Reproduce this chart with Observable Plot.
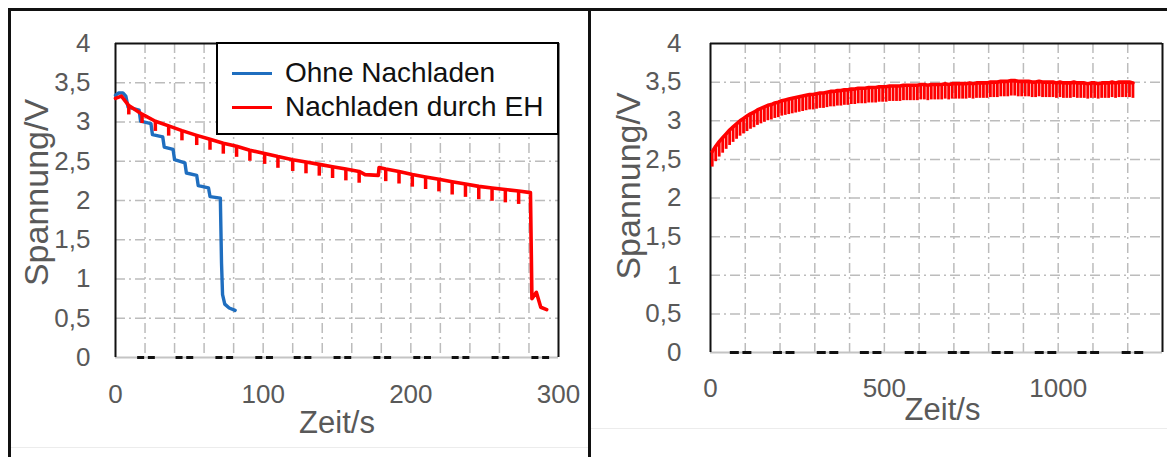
<!DOCTYPE html>
<html><head><meta charset="utf-8">
<script src="https://cdn.jsdelivr.net/npm/d3@7"></script>
<script src="https://cdn.jsdelivr.net/npm/@observablehq/plot@0.6"></script>
<style>
html,body{margin:0;padding:0;background:#fff;}
#root{position:relative;width:1167px;height:457px;overflow:hidden;font-family:"Liberation Sans",Arial,sans-serif;background:#fff;}
.ln{position:absolute;background:#111;}
.fl{position:absolute;background:#ececec;}
#left,#right{position:absolute;top:10px;}
#left{left:10px;} #right{left:592px;}
#legend{position:absolute;left:216px;top:42px;width:343px;height:93px;border:2px solid #000;background:#fff;box-sizing:border-box;}
.sw{position:absolute;left:14px;width:40px;height:3px;}
.lt{position:absolute;left:67px;font-size:28px;line-height:28px;color:#111;white-space:nowrap;}
</style></head>
<body><div id="root">
<div id="left"></div><div id="right"></div>
<div class="ln" style="left:8px;top:8px;width:1159px;height:3px;"></div>
<div class="ln" style="left:8px;top:8px;width:3px;height:449px;"></div>
<div class="ln" style="left:588px;top:8px;width:3px;height:449px;"></div>
<div class="fl" style="left:11px;top:447px;width:577px;height:1px;"></div>
<div class="fl" style="left:591px;top:428px;width:576px;height:1px;"></div>
<div id="legend">
  <div class="sw" style="top:27.5px;background:#1f6ebf;"></div>
  <div class="lt" style="top:15px;">Ohne Nachladen</div>
  <div class="sw" style="top:61.5px;background:#ff0000;"></div>
  <div class="lt" style="top:49px;">Nachladen durch EH</div>
</div>
</div>
<script>
// ---------- data ----------
const voltTicks = [0, 0.5, 1, 1.5, 2, 2.5, 3, 3.5, 4];
const gridY = [0.5, 1, 1.5, 2, 2.5, 3, 3.5];
const leftTicksX = [0, 100, 200, 300];
const rightTicksX = [0, 500, 1000];
const leftGridX = [20, 40, 60, 80, 100, 120, 140, 160, 180, 200, 220, 240, 260, 280];
const rightGridX = [100, 200, 300, 400, 500, 600, 700, 800, 900, 1000, 1100, 1200];

// Left: "Ohne Nachladen" (blue)
const blueT = [0, 2, 5, 7, 8.5, 16, 17, 24, 25, 32, 33, 39, 40, 47, 48, 55, 56, 63, 64, 71, 71.8, 72.5, 74, 77, 81];
const blueV = [3.34, 3.37, 3.37, 3.33, 3.19, 3.15, 3.01, 2.98, 2.84, 2.81, 2.68, 2.65, 2.52, 2.48, 2.35, 2.32, 2.19, 2.16, 2.05, 2.03, 1.2, 0.8, 0.68, 0.63, 0.60];

// Left: "Nachladen durch EH" (red) – plateau
const redT = [0, 4, 9, 18, 27, 36, 45, 55, 64, 73, 82, 91, 101, 110, 120, 129, 138, 147, 156, 165, 169, 178, 178.5, 183, 192, 201, 210, 219, 228, 237, 246, 255, 264, 273, 281, 282, 285, 288, 292];
const redV = [3.30, 3.33, 3.21, 3.10, 3.01, 2.95, 2.89, 2.83, 2.78, 2.73, 2.69, 2.64, 2.60, 2.56, 2.52, 2.49, 2.46, 2.43, 2.40, 2.37, 2.33, 2.32, 2.42, 2.40, 2.37, 2.33, 2.30, 2.27, 2.24, 2.21, 2.18, 2.16, 2.14, 2.12, 2.10, 0.75, 0.83, 0.64, 0.61];
// Left red dips (teeth)
const redToothT = [9, 18, 27, 36, 45, 55, 64, 73, 82, 91, 101, 110, 120, 129, 138, 147, 156, 165, 183, 192, 201, 210, 219, 228, 237, 246, 255, 264, 273];
const redToothDip = [0.12, 0.12, 0.13, 0.13, 0.13, 0.13, 0.14, 0.14, 0.14, 0.14, 0.14, 0.15, 0.15, 0.15, 0.15, 0.15, 0.15, 0.15, 0.16, 0.16, 0.16, 0.16, 0.16, 0.17, 0.17, 0.17, 0.17, 0.17, 0.17];
// EH pulses marked at 0 V
const leftPulseStart = [15, 41, 68, 95, 121, 148, 175, 202, 228, 255, 282];
const leftPulseLen = [12];

// Right: long-term recharge (red)
const rightToothT = [5, 15, 25, 35, 45, 55, 65, 75, 85, 95,
  105, 115, 125, 135, 145, 155, 165, 175, 185, 195,
  205, 215, 225, 235, 245, 255, 265, 275, 285, 295,
  305, 315, 325, 335, 345, 355, 365, 375, 385, 395,
  405, 415, 425, 435, 445, 455, 465, 475, 485, 495,
  505, 515, 525, 535, 545, 555, 565, 575, 585, 595,
  605, 615, 625, 635, 645, 655, 665, 675, 685, 695,
  705, 715, 725, 735, 745, 755, 765, 775, 785, 795,
  805, 815, 825, 835, 845, 855, 865, 875, 885, 895,
  905, 915, 925, 935, 945, 955, 965, 975, 985, 995,
  1005, 1015, 1025, 1035, 1045, 1055, 1065, 1075, 1085, 1095,
  1105, 1115, 1125, 1135, 1145, 1155, 1165, 1175, 1185, 1195,
  1205, 1215];
const rightToothV = [2.60, 2.67, 2.73, 2.78, 2.83, 2.88, 2.92, 2.96, 3.00, 3.03,
  3.06, 3.09, 3.11, 3.14, 3.16, 3.18, 3.20, 3.21, 3.23, 3.24,
  3.26, 3.27, 3.28, 3.29, 3.30, 3.31, 3.32, 3.33, 3.34, 3.34,
  3.35, 3.36, 3.36, 3.37, 3.38, 3.38, 3.39, 3.39, 3.40, 3.40,
  3.41, 3.41, 3.42, 3.42, 3.42, 3.43, 3.43, 3.43, 3.44, 3.44,
  3.44, 3.45, 3.45, 3.45, 3.45, 3.46, 3.46, 3.46, 3.46, 3.46,
  3.47, 3.47, 3.46, 3.47, 3.47, 3.47, 3.47, 3.48, 3.47, 3.48,
  3.48, 3.48, 3.48, 3.48, 3.49, 3.48, 3.49, 3.49, 3.49, 3.49,
  3.50, 3.50, 3.50, 3.51, 3.51, 3.51, 3.52, 3.52, 3.51, 3.51,
  3.51, 3.51, 3.50, 3.50, 3.51, 3.50, 3.50, 3.50, 3.50, 3.49,
  3.50, 3.49, 3.49, 3.49, 3.50, 3.49, 3.49, 3.49, 3.48, 3.49,
  3.49, 3.48, 3.49, 3.49, 3.49, 3.50, 3.49, 3.50, 3.50, 3.50,
  3.50, 3.49];
const rightDip = [0.2];
const rightPulseStart = [57, 181, 307, 431, 560, 684, 810, 934, 1057, 1184];
const rightPulseLen = [62];

// ---------- tables ----------
const blue = blueT.map((t, i) => ({t, v: blueV[i]}));
const red = redT.map((t, i) => ({t, v: redV[i]}));
const redTeeth = redToothT.map((t, i) => ({t, v: redV[redT.indexOf(t)], dip: redToothDip[i]}));
const rightLine = rightToothT.map((t, i) => ({t, v: rightToothV[i]}));
const rightTeeth = rightLine.map(d => ({t: d.t, v: d.v, dip: rightDip[0]}));

const fmt = d => String(d).replace(".", ",");
const FONT = "'Liberation Sans', Arial, sans-serif";
const GRAY = "#595959";
const RED = "#ff0000";
const BLUE = "#1f6ebf";
const gridStyle = {stroke: "#bcbcbc", strokeWidth: 1.5, strokeDasharray: "10,4,2,4"};
const style = {fontFamily: FONT, fontSize: "26px", color: GRAY, background: "transparent", overflow: "visible"};

const leftPlot = Plot.plot({
  width: 578, height: 440,
  marginLeft: 105, marginRight: 30, marginTop: 33, marginBottom: 93,
  x: {domain: [0, 300]}, y: {domain: [0, 4]},
  style,
  marks: [
    Plot.ruleX(leftGridX, gridStyle),
    Plot.ruleY(gridY, gridStyle),
    Plot.ruleY([0], {stroke: "#c4c4c4", strokeWidth: 2}),
    Plot.ruleY(leftPulseStart, {y: d => 0, x1: d => d, x2: d => d + leftPulseLen[0], stroke: "#111", strokeWidth: 3, strokeDasharray: "7,3.7"}),
    Plot.ruleX([0, 300], {stroke: "#111", strokeWidth: 2}),
    Plot.ruleY([4], {stroke: "#111", strokeWidth: 2}),
    Plot.axisX({ticks: leftTicksX, tickSize: 0, tickPadding: 27, label: null, tickFormat: fmt, fill: GRAY}),
    Plot.axisY({ticks: voltTicks, tickSize: 0, tickPadding: 25, label: null, tickFormat: fmt, fill: GRAY}),
    Plot.line(blue, {x: "t", y: "v", stroke: BLUE, strokeWidth: 3.4}),
    Plot.ruleX(redTeeth, {x: "t", y1: d => d.v - d.dip, y2: "v", stroke: RED, strokeWidth: 3.5}),
    Plot.line(red, {x: "t", y: "v", stroke: RED, strokeWidth: 3.6}),
    Plot.text(["Zeit/s"], {frameAnchor: "bottom", textAnchor: "middle", dy: 75, fontSize: 31, fill: GRAY}),
    Plot.text(["Spannung/V"], {frameAnchor: "left", textAnchor: "middle", rotate: -90, dx: -78, dy: -8, fontSize: 34, fill: GRAY})
  ]
});
document.getElementById("left").appendChild(leftPlot);

const rightPlot = Plot.plot({
  width: 575, height: 440,
  marginLeft: 118, marginRight: 5, marginTop: 33, marginBottom: 98,
  x: {domain: [0, 1300]}, y: {domain: [0, 4]},
  style,
  marks: [
    Plot.ruleX(rightGridX, gridStyle),
    Plot.ruleY(gridY, gridStyle),
    Plot.ruleY([0], {stroke: "#c4c4c4", strokeWidth: 2}),
    Plot.ruleY(rightPulseStart, {y: d => 0, x1: d => d, x2: d => d + rightPulseLen[0], stroke: "#111", strokeWidth: 3, strokeDasharray: "9,3.6"}),
    Plot.ruleX([0, 1300], {stroke: "#111", strokeWidth: 2}),
    Plot.ruleY([4], {stroke: "#111", strokeWidth: 2}),
    Plot.axisX({ticks: rightTicksX, tickSize: 0, tickPadding: 26, label: null, tickFormat: fmt, fill: GRAY}),
    Plot.axisY({ticks: voltTicks, tickSize: 0, tickPadding: 29, label: null, tickFormat: fmt, fill: GRAY}),
    Plot.ruleX(rightTeeth, {x: "t", y1: d => d.v - d.dip, y2: "v", stroke: RED, strokeWidth: 2.8}),
    Plot.line(rightLine, {x: "t", y: "v", stroke: RED, strokeWidth: 3.6}),
    Plot.text(["Zeit/s"], {frameAnchor: "bottom", textAnchor: "middle", dx: 6, dy: 67, fontSize: 31, fill: GRAY}),
    Plot.text(["Spannung/V"], {frameAnchor: "left", textAnchor: "middle", rotate: -90, dx: -81, dy: -12, fontSize: 34, fill: GRAY})
  ]
});
document.getElementById("right").appendChild(rightPlot);
</script>
</body></html>
